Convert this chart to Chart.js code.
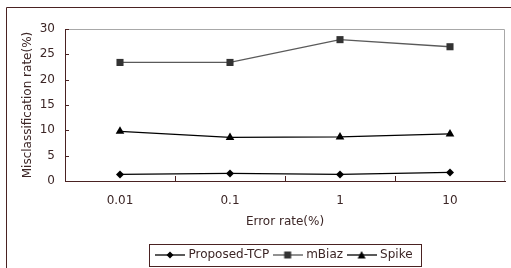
<!DOCTYPE html>
<html>
<head>
<meta charset="utf-8">
<script src="https://cdn.jsdelivr.net/npm/chart.js@4.4.0/dist/chart.umd.min.js"></script>
<style>
  html, body { margin: 0; padding: 0; background: #fff; }
  #wrap { width: 511px; height: 268px; }
</style>
</head>
<body>
<div id="wrap"><canvas id="chart" width="511" height="268"></canvas></div>
<script>
// chart data
const errorRates = ['0.01', '0.1', '1', '10'];
const proposedTcp = [1.3, 1.5, 1.3, 1.7];
const mBiaz = [23.4, 23.4, 27.9, 26.5];
const spike = [9.8, 8.6, 8.7, 9.3];
const yTicks = [0, 5, 10, 15, 20, 25, 30];

const textColor = '#3c2626';
const axisColor = '#4a2222';
const font = { family: 'DejaVu Sans, sans-serif', size: 12 };
const bottomPad = -3;

// little "line + marker" icons for the legend
function legendIcon(shape, lineColor, markColor) {
    const c = document.createElement('canvas');
    c.width = 30; c.height = 10;
    const g = c.getContext('2d');
    g.strokeStyle = lineColor;
    g.lineWidth = 1.3;
    g.beginPath(); g.moveTo(0, 5); g.lineTo(30, 5); g.stroke();
    g.fillStyle = markColor;
    g.beginPath();
    if (shape === 'rectRot') {
        g.moveTo(15, 1.5); g.lineTo(18.5, 5); g.lineTo(15, 8.5); g.lineTo(11.5, 5);
    } else if (shape === 'rect') {
        g.rect(11.5, 1.5, 7, 7);
    } else {
        g.moveTo(15, 1); g.lineTo(19, 8.5); g.lineTo(11, 8.5);
    }
    g.closePath(); g.fill();
    return c;
}

const frame = {
    id: 'frame',
    afterLayout(chart) {
        // centre the legend under the plot area
        chart.legend.left = chart.chartArea.left;
        chart.legend.right = chart.chartArea.right;
    },
    afterDraw(chart) {
        const { ctx, chartArea: a } = chart;
        ctx.save();
        // outer frame (cut off at right and bottom)
        ctx.strokeStyle = axisColor;
        ctx.lineWidth = 1;
        ctx.beginPath();
        ctx.moveTo(6.5, 268); ctx.lineTo(6.5, 7.5); ctx.lineTo(511, 7.5);
        ctx.stroke();
        // plot area top/right in grey
        ctx.strokeStyle = '#a8a8a8';
        ctx.beginPath();
        ctx.moveTo(a.left, a.top + 0.5); ctx.lineTo(a.right - 0.5, a.top + 0.5); ctx.lineTo(a.right - 0.5, a.bottom);
        ctx.stroke();
        // inward tick marks
        ctx.strokeStyle = axisColor;
        const x = chart.scales.x, y = chart.scales.y;
        ctx.beginPath();
        for (let i = 1; i < errorRates.length; i++) {
            const px = Math.round((x.getPixelForTick(i - 1) + x.getPixelForTick(i)) / 2) + 0.5;
            ctx.moveTo(px, a.bottom); ctx.lineTo(px, a.bottom - 5);
        }
        yTicks.forEach(v => {
            const py = Math.round(y.getPixelForValue(v)) + 0.5;
            ctx.moveTo(a.left, py); ctx.lineTo(a.left + 4, py);
        });
        ctx.stroke();
        // legend box
        const hb = chart.legend.legendHitBoxes;
        if (hb && hb.length) {
            const last = hb[hb.length - 1];
            const l = hb[0].left - 8.5, r = last.left + last.width + 8;
            ctx.strokeStyle = axisColor;
            ctx.strokeRect(Math.round(l) + 0.5, 244.5, Math.round(r - l), 22);
        }
        ctx.restore();
    }
};

const icons = [
    legendIcon('rectRot', '#000', '#000'),
    legendIcon('rect', '#555', '#333'),
    legendIcon('triangle', '#000', '#000')
];

new Chart(document.getElementById('chart'), {
    type: 'line',
    data: {
        labels: errorRates,
        datasets: [
            { label: 'Proposed-TCP', data: proposedTcp, borderColor: '#000', backgroundColor: '#000',
              borderWidth: 1.3, pointStyle: 'rectRot', pointRadius: 4, pointBorderWidth: 0 },
            { label: 'mBiaz', data: mBiaz, borderColor: '#5a5a5a', backgroundColor: '#333',
              borderWidth: 1.3, pointStyle: 'rect', pointRadius: 5, pointBorderWidth: 0 },
            { label: 'Spike', data: spike, borderColor: '#000', backgroundColor: '#000',
              borderWidth: 1.3, pointStyle: 'triangle', pointRadius: 5, pointBorderWidth: 0 }
        ]
    },
    options: {
        responsive: false,
        animation: false,
        layout: { padding: { left: 6, right: 6, top: 29, bottom: bottomPad } },
        plugins: {
            tooltip: { enabled: false },
            legend: {
                position: 'bottom',
                labels: {
                    usePointStyle: true,
                    pointStyleWidth: 25,
                    padding: 6,
                    color: textColor,
                    font: font,
                    generateLabels(chart) {
                        return Chart.defaults.plugins.legend.labels.generateLabels(chart).map((l, i) => {
                            l.pointStyle = icons[i];
                            return l;
                        });
                    }
                }
            }
        },
        scales: {
            x: {
                offset: true,
                grid: { display: false, drawTicks: false },
                border: { display: true, color: axisColor, width: 1 },
                ticks: { color: textColor, font: font, padding: 13 },
                title: { display: true, text: 'Error rate(%)', color: textColor, font: font, padding: { top: 6, bottom: 14 } },
                // keep the plot bottom at y=181 whatever the legend height
                afterFit(s) { s.height = s.chart.height - bottomPad - s.chart.legend.height - 181; }
            },
            y: {
                min: 0, max: 30,
                afterBuildTicks(s) { s.ticks = yTicks.map(v => ({ value: v })); },
                grid: { display: false, drawTicks: false },
                border: { display: true, color: axisColor, width: 1 },
                ticks: { color: textColor, font: font, padding: 10 },
                title: { display: true, text: 'Misclassification rate(%)', color: textColor, font: font, padding: { top: 15, bottom: 4 } },
                afterFit(s) { s.width = 59; }
            }
        }
    },
    plugins: [frame]
});
</script>
</body>
</html>
